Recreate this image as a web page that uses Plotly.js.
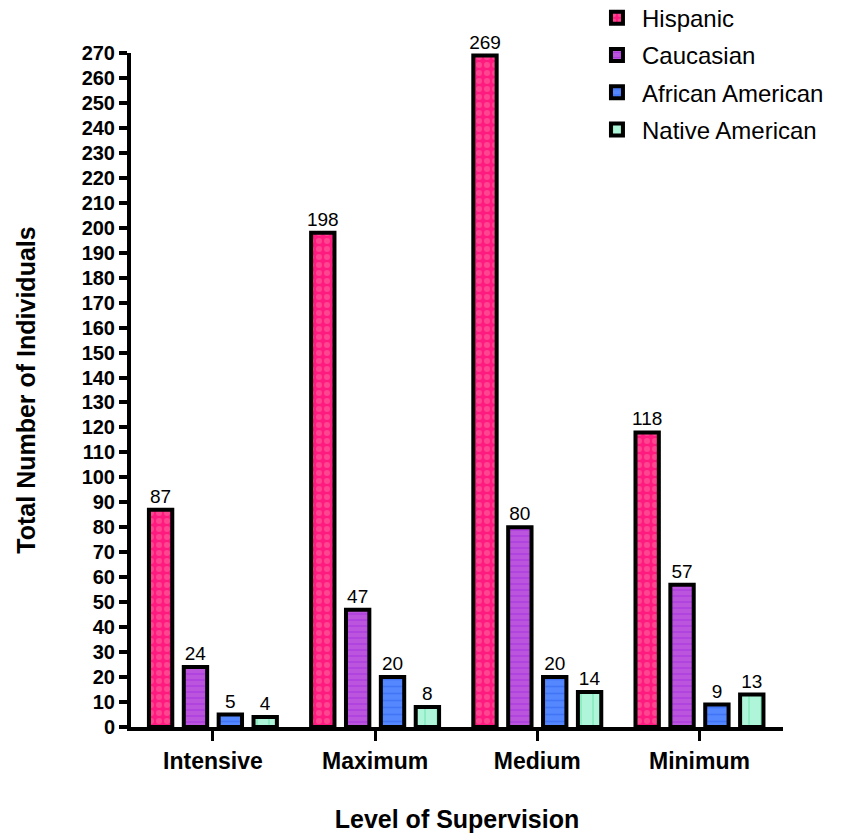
<!DOCTYPE html>
<html>
<head>
<meta charset="utf-8">
<script src="https://cdn.plot.ly/plotly-3.0.1.min.js"></script>
<style>html,body{margin:0;padding:0;background:#fff;}#chart{width:844px;height:833px;}</style>
</head>
<body>
<div id="chart"></div>
<script>
const categories = ["Intensive", "Maximum", "Medium", "Minimum"];
const hispanic = [87, 198, 269, 118];
const caucasian = [24, 47, 80, 57];
const africanAmerican = [5, 20, 20, 9];
const nativeAmerican = [4, 8, 14, 13];
const yTicks = [0,10,20,30,40,50,60,70,80,90,100,110,120,130,140,150,160,170,180,190,200,210,220,230,240,250,260,270];

const FONT = "Liberation Sans, Arial, Helvetica, sans-serif";

function barTrace(name, values, base, fg, shape, size, solidity) {
  return {
    type: "bar",
    name: name,
    legendgroup: name,
    x: categories,
    y: values,
    text: values.map(String),
    textposition: "outside",
    constraintext: "none",
    cliponaxis: false,
    textfont: {family: FONT, size: 19, color: "#000"},
    marker: {
      color: base,
      line: {color: "#000", width: 4},
      pattern: {shape: shape, fgcolor: fg, bgcolor: base, size: size, solidity: solidity, fillmode: "overlay"}
    }
  };
}

const data = [
  barTrace("Hispanic", hispanic, "#ff1a80", "#ff70a0", ".", 8, 0.45),
  barTrace("Caucasian", caucasian, "#bb55dd", "#9a18e0", "-", 6, 0.2),
  barTrace("African American", africanAmerican, "#5588ff", "#2f62ee", "-", 7, 0.25),
  barTrace("Native American", nativeAmerican, "#aef5da", "#55dd99", "|", 12, 0.12)
];

const layout = {
  width: 844,
  height: 833,
  margin: {l: 131, r: 61, t: 53, b: 106, autoexpand: false},
  paper_bgcolor: "#fff",
  plot_bgcolor: "#fff",
  barmode: "group",
  bargap: 0.14,
  bargroupgap: 0.33,
  font: {family: FONT, color: "#000"},
  showlegend: true,
  legend: {
    x: 0.707, xanchor: "left", y: 1.085, yanchor: "top",
    font: {family: FONT, size: 24, color: "#000"},
    bgcolor: "rgba(0,0,0,0)", borderwidth: 0,
    itemwidth: 40,
    traceorder: "grouped",
    tracegroupgap: 3
  },
  xaxis: {
    type: "category",
    range: [-0.505, 3.515],
    showline: true, linecolor: "#000", linewidth: 4,
    ticks: "outside", ticklen: 10, tickwidth: 3, tickcolor: "#000",
    tickfont: {family: FONT, size: 23, weight: "bold", color: "#000"},
    showgrid: false, zeroline: false,
    title: {text: "Level of Supervision", font: {family: FONT, size: 25, weight: "bold", color: "#000"}, standoff: 40}
  },
  yaxis: {
    range: [0, 270],
    tickvals: yTicks,
    ticktext: yTicks.map(String),
    showline: true, linecolor: "#000", linewidth: 4,
    ticks: "outside", ticklen: 8, tickwidth: 4, tickcolor: "#000",
    tickfont: {family: FONT, size: 20, weight: "bold", color: "#000"},
    showgrid: false, zeroline: false,
    title: {text: "Total Number of Individuals", font: {family: FONT, size: 25, weight: "bold", color: "#000"}, standoff: 40}
  }
};

Plotly.newPlot("chart", data, layout, {displayModeBar: false, responsive: false});
</script>
</body>
</html>
